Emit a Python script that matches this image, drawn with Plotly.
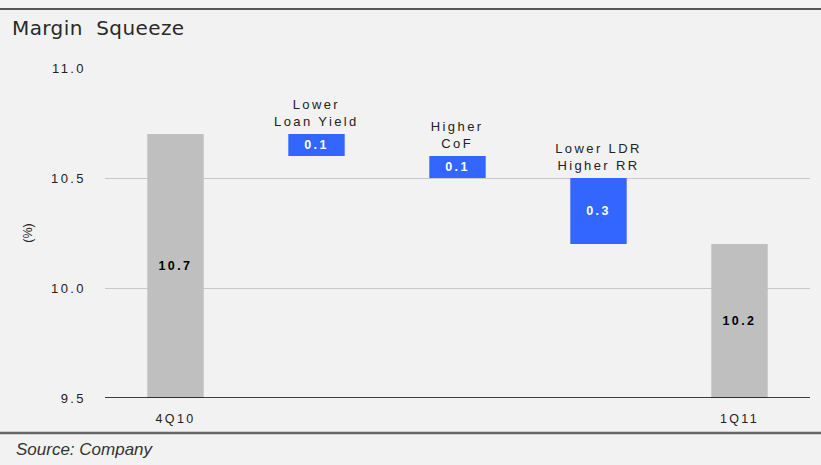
import plotly.graph_objects as go

categories = ["4Q10", "Lower Loan Yield", "Higher CoF", "Lower LDR Higher RR", "1Q11"]
tick_labels = ["4Q10", "", "", "", "1Q11"]
step_labels = ["", "Lower<br>Loan Yield", "Higher<br>CoF", "Lower LDR<br>Higher RR", ""]
values = [10.7, -0.1, -0.1, -0.3, 10.2]
kinds = ["total", "delta", "delta", "delta", "total"]
y_ticks = [9.5, 10.0, 10.5, 11.0]
Y_MIN, Y_MAX = 9.5, 11.0

# compute floating bar bases from values
bases, heights, texts, colors, tcolors, tops = [], [], [], [], [], []
level = 0.0
for v, k in zip(values, kinds):
    if k == "total":
        level = v
        bases.append(Y_MIN)
        heights.append(v - Y_MIN)
        texts.append(f"{v:.1f}")
        colors.append("#bfbfbf")
        tcolors.append("#000000")
        tops.append(v)
    else:
        new = level + v
        bases.append(min(level, new))
        heights.append(abs(v))
        texts.append(f"{abs(v):.1f}")
        colors.append("#3366ff")
        tcolors.append("#ffffff")
        tops.append(max(level, new))
        level = new

fig = go.Figure()
fig.add_trace(go.Bar(
    x=categories, y=heights, base=bases, width=0.4,
    marker=dict(color=colors, line=dict(width=0)),
    text=texts, textposition="inside", insidetextanchor="middle",
    textfont=dict(family="Liberation Sans", size=12.5, color=tcolors, weight="bold"),
    textangle=0, hoverinfo="skip", cliponaxis=True,
))

for c, lab, t in zip(categories, step_labels, tops):
    if lab:
        fig.add_annotation(x=c, y=t, text=lab, showarrow=False, yanchor="bottom",
                           yshift=3, font=dict(family="Liberation Sans", size=13, color="#222222"))

W, H = 821, 465
L, R, T, B = 105, 11, 68, 67
pw, ph = W - L - R, H - T - B

fig.update_layout(
    width=W, height=H,
    paper_bgcolor="#f2f2f2", plot_bgcolor="#f2f2f2",
    margin=dict(l=L, r=R, t=T, b=B),
    showlegend=False,
    title=dict(text="Margin  Squeeze", x=12 / W, xanchor="left", y=1 - 28 / H, yanchor="middle",
               font=dict(family="DejaVu Sans", size=20, color="#2a2a2a")),
    xaxis=dict(tickmode="array", tickvals=categories, ticktext=tick_labels,
               tickfont=dict(family="Liberation Sans", size=12.5, color="#222222"),
               showgrid=False, showline=False, ticks="", ticklabelstandoff=11),
    yaxis=dict(range=[Y_MIN, Y_MAX], tickvals=y_ticks, ticktext=[f"{v:.1f}" for v in y_ticks],
               showgrid=True, gridcolor="#c8c8c8", gridwidth=1, zeroline=False,
               tickfont=dict(family="Liberation Sans", size=13, color="#222222"),
               ticks="", ticklabelstandoff=18,
               title=dict(text="(%)", font=dict(family="Liberation Sans", size=12.5, color="#222222"), standoff=25)),
    shapes=[
        dict(type="line", xref="paper", yref="y", x0=0, x1=1, y0=Y_MIN, y1=Y_MIN,
             line=dict(color="#000000", width=1.3)),
        dict(type="line", xref="paper", yref="paper", x0=-L / pw, x1=1 + R / pw,
             y0=(H - T - 8) / ph, y1=(H - T - 8) / ph, line=dict(color="#555555", width=2)),
        dict(type="line", xref="paper", yref="paper", x0=-L / pw, x1=1 + R / pw,
             y0=-(433 - (H - B)) / ph, y1=-(433 - (H - B)) / ph, line=dict(color="#666666", width=2.5)),
    ],
)
fig.add_annotation(xref="paper", yref="paper", x=-(L - 14) / pw, y=-(449 - (H - B)) / ph,
                   xanchor="left", yanchor="middle",
                   text="<i>Source: Company</i>", showarrow=False,
                   font=dict(family="Liberation Sans", size=17, color="#333333"))

post = """
document.body.style.margin='0';
document.body.style.background='#f2f2f2';
var gd = document.getElementById('{plot_id}');
function sp(){
  gd.querySelectorAll('.xtick text, .ytick text, .bartext, .annotation-text').forEach(function(t){
    if (t.textContent.indexOf('Source') === -1) { t.style.letterSpacing='2.4px'; }
  });
  gd.querySelectorAll('.gtitle').forEach(function(t){ t.style.letterSpacing='0.4px'; });
}
sp();
gd.on('plotly_afterplot', sp);
"""

fig.write_html("out.html", post_script=post, config={"displayModeBar": False})
